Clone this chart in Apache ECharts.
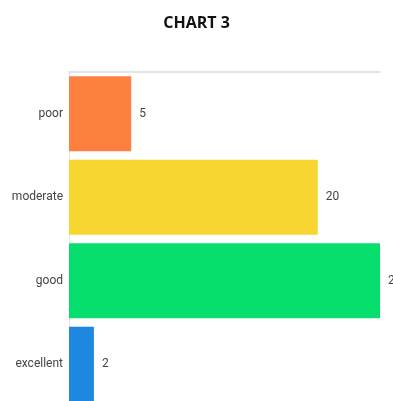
<!DOCTYPE html>
<html><head><meta charset="utf-8">
<script src="https://cdn.jsdelivr.net/npm/echarts@6/dist/echarts.min.js"></script>
<style>html,body{margin:0;padding:0;background:#fff}#c{width:393px;height:401px}</style>
</head><body><div id="c"></div>
<script>
const categories = ['poor', 'moderate', 'good', 'excellent'];
const values = [5, 20, 25, 2];
const barColors = ['#fd8040', '#f8d631', '#06df6d', '#1e87e0'];
const xMax = 25;

const chart = echarts.init(document.getElementById('c'), null, {renderer: 'canvas'});
chart.setOption({
  animation: false,
  backgroundColor: '#ffffff',
  title: {
    text: 'CHART 3', left: 'center', top: 10,
    textStyle: {fontFamily: 'Open Sans', fontWeight: 'bold', fontSize: 16, color: '#111'}
  },
  grid: {left: 69, right: 13, top: 72, height: 334, containLabel: false, outerBoundsMode: 'none'},
  xAxis: {
    type: 'value', position: 'top', min: 0, max: xMax,
    axisLine: {show: true, lineStyle: {color: '#dcdcdc', width: 1.5}},
    axisTick: {show: false}, axisLabel: {show: false}, splitLine: {show: false}
  },
  yAxis: {
    type: 'category', data: categories, inverse: true,
    axisLine: {show: true, lineStyle: {color: '#e6e6e6', width: 1}},
    axisTick: {show: false},
    axisLabel: {color: '#444', fontFamily: 'Roboto', fontSize: 12, margin: 6}
  },
  series: [{
    type: 'bar',
    data: values.map((v, i) => ({value: v, itemStyle: {color: barColors[i]}})),
    barCategoryGap: '10%',
    label: {show: true, position: 'right', distance: 8, color: '#444', fontFamily: 'Roboto', fontSize: 12}
  }]
});
</script></body></html>
